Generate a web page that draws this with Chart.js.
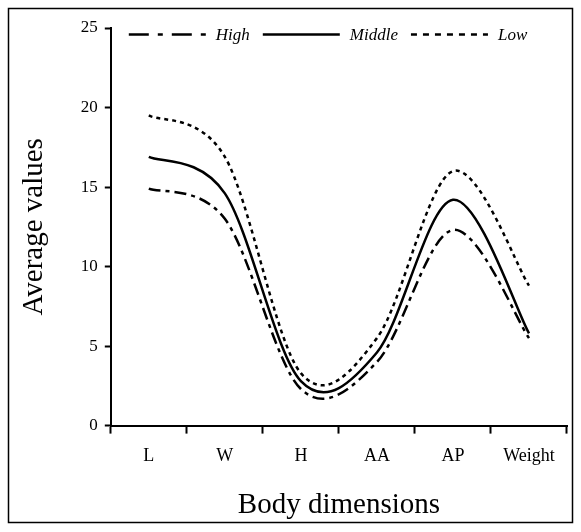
<!DOCTYPE html>
<html>
<head>
<meta charset="utf-8">
<script src="https://cdn.jsdelivr.net/npm/chart.js@4"></script>
<style>
  html, body { margin: 0; padding: 0; background: #fff; }
  #wrap { position: relative; width: 581px; height: 532px; }
</style>
</head>
<body>
<div id="wrap"><canvas id="bodyChart"></canvas></div>
<script>
// categories and values
const dimensions = ["L", "W", "H", "AA", "AP", "Weight"];
const highValues = [14.9, 13.0, 2.3, 4.0, 12.3, 5.5];
const middleValues = [16.9, 14.6, 2.8, 4.6, 14.2, 5.8];
const lowValues = [19.5, 16.9, 3.3, 5.5, 16.0, 8.8];
const yTicks = [0, 5, 10, 15, 20, 25];

const serif = "'Liberation Serif', 'DejaVu Serif', serif";

// legend samples use longer dashes than the plotted lines
const legendDash = {
  High: [20, 9, 5, 9],
  Middle: [],
  Low: [6, 6]
};

const framePlugin = {
  id: 'frame',
  afterDraw(chart) {
    const { ctx } = chart;
    ctx.save();
    ctx.strokeStyle = '#000';
    ctx.lineWidth = 1.5;
    ctx.strokeRect(8.5, 8.5, 564, 514);
    ctx.restore();
  }
};

// spreadsheet-style smoothing: control points at 1/6 of the neighbour span
const smoothPlugin = {
  id: 'smoothLines',
  beforeDatasetDraw(chart, args) {
    const meta = args.meta;
    meta.dataset.updateControlPoints(chart.chartArea, meta.iScale.axis);
    const pts = meta.data;
    const n = pts.length;
    for (let i = 0; i < n; i++) {
      const prev = pts[Math.max(i - 1, 0)];
      const next = pts[Math.min(i + 1, n - 1)];
      const p = pts[i];
      const dx = (next.x - prev.x) / 6;
      const dy = (next.y - prev.y) / 6;
      p.cp1x = p.x - dx;
      p.cp1y = p.y - dy;
      p.cp2x = p.x + dx;
      p.cp2y = p.y + dy;
    }
  }
};

// legend drawn inside the plot, across the top
const insideLegend = {
  id: 'insideLegend',
  afterDraw(chart) {
    const { ctx, chartArea } = chart;
    const sampleLen = 77;
    const gap = 10;
    const spacing = 13;
    const y = 34.5;
    let x = chartArea.left + 18;
    ctx.save();
    ctx.font = "italic 17px " + serif;
    ctx.textBaseline = 'middle';
    ctx.fillStyle = '#000';
    chart.data.datasets.forEach(ds => {
      ctx.strokeStyle = '#000';
      ctx.lineWidth = 2.5;
      ctx.setLineDash(legendDash[ds.label]);
      ctx.beginPath();
      ctx.moveTo(x, y);
      ctx.lineTo(x + sampleLen, y);
      ctx.stroke();
      ctx.setLineDash([]);
      ctx.fillText(ds.label, x + sampleLen + gap, y + 1);
      x += sampleLen + gap + ctx.measureText(ds.label).width + spacing;
    });
    ctx.restore();
  }
};

function makeSeries(label, values, dash) {
  return {
    label: label,
    data: values,
    borderColor: '#000',
    backgroundColor: '#000',
    borderWidth: 2.5,
    borderDash: dash,
    pointRadius: 0,
    pointHoverRadius: 0,
    fill: false,
    tension: 0.4
  };
}

const ctx = document.getElementById('bodyChart').getContext('2d');

new Chart(ctx, {
  type: 'line',
  data: {
    labels: dimensions,
    datasets: [
      makeSeries('High', highValues, [12, 5, 4, 5]),
      makeSeries('Middle', middleValues, []),
      makeSeries('Low', lowValues, [4, 4])
    ]
  },
  options: {
    responsive: true,
    maintainAspectRatio: false,
    animation: false,
    layout: { padding: { top: 28, right: 14, left: 17, bottom: 9 } },
    scales: {
      x: {
        type: 'category',
        offset: true,
        grid: {
          offset: true,
          drawOnChartArea: false,
          drawTicks: true,
          tickLength: 8,
          tickColor: '#000',
          tickWidth: 2
        },
        border: { display: true, color: '#000', width: 2 },
        ticks: {
          color: '#000',
          padding: 12,
          maxRotation: 0,
          font: { family: serif, size: 18 }
        },
        title: {
          display: true,
          text: 'Body dimensions',
          color: '#000',
          padding: { top: 9, bottom: 0 },
          font: { family: serif, size: 29 }
        }
      },
      y: {
        min: 0,
        max: 25,
        afterBuildTicks(axis) {
          axis.ticks = yTicks.map(v => ({ value: v }));
        },
        grid: {
          drawOnChartArea: false,
          tickLength: 6,
          tickColor: '#000',
          tickWidth: 2
        },
        border: { display: true, color: '#000', width: 2 },
        ticks: {
          color: '#000',
          padding: 7,
          font: { family: serif, size: 17 }
        },
        title: {
          display: true,
          text: 'Average values',
          color: '#000',
          padding: { top: 0, bottom: 22 },
          font: { family: serif, size: 29 }
        }
      }
    },
    plugins: {
      legend: { display: false },
      tooltip: { enabled: false }
    }
  },
  plugins: [framePlugin, smoothPlugin, insideLegend]
});
</script>
</body>
</html>
